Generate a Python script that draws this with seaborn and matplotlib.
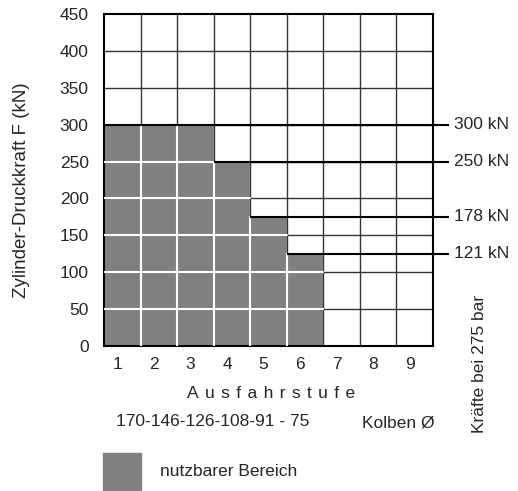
import matplotlib
matplotlib.use('Agg')
import matplotlib.pyplot as plt
import matplotlib.transforms as mtransforms
import seaborn as sns
import pandas as pd

# Daten
stufen = [1, 2, 3, 4, 5, 6, 7, 8, 9]
kraft = [300, 300, 300, 250, 175, 125, 0, 0, 0]       # gezeichnete Balkenhöhe (kN)
kraft_labels = ['300 kN', '250 kN', '178 kN', '121 kN']
kraft_stufen = [1, 4, 5, 6]                             # ab welcher Stufe die Linie beginnt
kraft_linien = [300, 250, 175, 125]
y_ticks = [0, 50, 100, 150, 200, 250, 300, 350, 400, 450]

sns.set_style('white')
plt.rcParams['font.family'] = ['Liberation Sans', 'DejaVu Sans']

W, H = 518, 491
FS = 12.5
fig = plt.figure(figsize=(W / 100, H / 100), dpi=100)
ax = fig.add_axes([104 / W, (H - 346) / H, 329 / W, 332 / H])

df = pd.DataFrame({'stufe': stufen, 'kraft': kraft})
GRAU = '#808080'

# Gitter (dunkel) unter den Balken
for y in y_ticks[1:-1]:
    ax.axhline(y, color='#333333', lw=1, zorder=0)
for i in range(1, len(stufen)):
    ax.axvline(i - 0.5, color='#333333', lw=1, zorder=0)

sns.barplot(data=df, x='stufe', y='kraft', color=GRAU, saturation=1,
            width=1.0, edgecolor='none', linewidth=0, ax=ax, zorder=2)

# weißes Gitter innerhalb der Balken
for i, h in enumerate(kraft):
    for y in y_ticks[1:]:
        if y < h:
            ax.plot([i - 0.5, i + 0.5], [y, y], color='white', lw=1.5, zorder=3)
    if i > 0:
        top = min(h, kraft[i - 1])
        if top > 0:
            ax.plot([i - 0.5, i - 0.5], [0, top], color='white', lw=1.5, zorder=3)

# Kraftlinien mit Beschriftung rechts
for stufe, y, lab in zip(kraft_stufen, kraft_linien, kraft_labels):
    x0 = stufen.index(stufe) - 0.5
    ax.plot([x0, 8.5 + 0.44], [y, y], color='black', lw=1.5, zorder=4,
            clip_on=False, solid_capstyle='butt')
    ax.text(8.5 + 0.58, y, lab, fontsize=FS, va='center', ha='left')

ax.set_xlim(-0.5, 8.5)
ax.set_ylim(0, 450)
ax.set_yticks(y_ticks)
ax.tick_params(axis='both', length=0, labelsize=FS)
ax.tick_params(axis='y', pad=11)
ax.tick_params(axis='x', pad=8)
ax.set_xlabel('')
ax.set_ylabel('')
for s in ax.spines.values():
    s.set_visible(True)
    s.set_color('black')
    s.set_linewidth(1.5)

# Ziffern der Stufen etwas links der Spaltenmitte (wie im Original)
shift = mtransforms.ScaledTranslation(-5 / 100, 0, fig.dpi_scale_trans)
for lbl in ax.get_xticklabels():
    lbl.set_transform(lbl.get_transform() + shift)

fig.text(22 / W, 1 - 190 / H, 'Zylinder-Druckkraft F (kN)', rotation=90,
         ha='center', va='center', fontsize=13.5)
fig.text(271 / W, 1 - 394 / H, '\u200a '.join('Ausfahrstufe'), ha='center', va='center',
         fontsize=FS)
fig.text(213 / W, 1 - 422 / H, '170-146-126-108-91 - 75', ha='center', va='center', fontsize=FS)
fig.text(398 / W, 1 - 423 / H, 'Kolben Ø', ha='center', va='center', fontsize=FS)
fig.text(480 / W, 1 - 364 / H, 'Kräfte bei 275 bar', rotation=90,
         ha='center', va='center', fontsize=FS)

# Legende
fig.patches.append(plt.Rectangle((103 / W, 1 - 491 / H), 38 / W, 38 / H,
                                 transform=fig.transFigure, color=GRAU, figure=fig))
fig.text(160 / W, 1 - 472 / H, 'nutzbarer Bereich', ha='left', va='center', fontsize=FS)

fig.savefig('out.png', dpi=100)
